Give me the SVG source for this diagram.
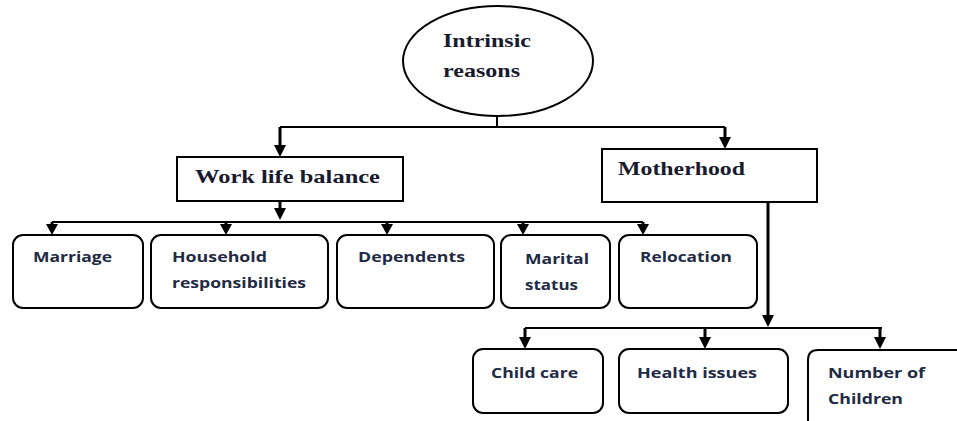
<svg xmlns="http://www.w3.org/2000/svg" width="957" height="421" viewBox="0 0 957 421">
<style>
.bx{fill:#fff;stroke:#000;stroke-width:2}
.ln{fill:none;stroke:#000;stroke-width:2}
.th{fill:none;stroke:#000;stroke-width:3}
.sf{font-family:"Liberation Serif","Times New Roman",serif;font-weight:bold;font-size:19px;fill:#1a1a2e}
.ss{font-family:"Open Sans","Liberation Sans",Arial,sans-serif;font-weight:bold;font-size:14px;fill:#1f2a44}
</style>
<defs>
<marker id="ah" markerWidth="10" markerHeight="10" refX="5" refY="9" orient="auto-start-reverse" markerUnits="userSpaceOnUse" viewBox="0 0 10 10">
<path d="M0,0 L10,0 L5,10 Z" fill="#000"/>
</marker>
</defs>
<rect width="957" height="421" fill="#fff"/>
<g id="connectors">
<path class="ln" d="M497,117 V127"/>
<path class="ln" d="M280,127 H725"/>
<path class="th" d="M280,127 V148"/>
<path d="M274,145 H286 L280,157 Z"/>
<path class="th" d="M725,127 V140"/>
<path d="M719,137 H731 L725,149 Z"/>
<path class="th" d="M280,201 V212"/>
<path d="M274,208 H286 L280,220 Z"/>
<path class="ln" d="M52,222 H643"/>
<path class="th" d="M52,222 V227"/><path d="M46,224 H58 L52,235 Z"/>
<path class="th" d="M226,222 V227"/><path d="M220,224 H232 L226,235 Z"/>
<path class="th" d="M387,222 V227"/><path d="M381,224 H393 L387,235 Z"/>
<path class="th" d="M523,222 V227"/><path d="M517,224 H529 L523,235 Z"/>
<path class="th" d="M643,222 V227"/><path d="M637,224 H649 L643,235 Z"/>
<path class="th" d="M768,202 V318"/>
<path d="M762,315 H774 L768,327 Z"/>
<path class="ln" d="M525,328 H882"/>
<path class="th" d="M525,328 V340"/><path d="M519,337 H531 L525,349 Z"/>
<path class="th" d="M705,328 V340"/><path d="M699,337 H711 L705,349 Z"/>
<path class="th" d="M880,328 V340"/><path d="M874,337 H886 L880,349 Z"/>
</g>
<g id="intrinsic">
<ellipse class="bx" cx="498" cy="61" rx="95" ry="55"/>
<text class="sf" x="443" y="47" textLength="88" lengthAdjust="spacingAndGlyphs">Intrinsic</text>
<text class="sf" x="443" y="77" textLength="77" lengthAdjust="spacingAndGlyphs">reasons</text>
</g>
<g id="worklife">
<rect class="bx" x="177" y="157" width="226" height="44"/>
<text class="sf" x="195" y="183" textLength="185" lengthAdjust="spacingAndGlyphs">Work life balance</text>
</g>
<g id="motherhood">
<rect class="bx" x="602" y="149" width="215" height="53"/>
<text class="sf" x="618" y="175" textLength="127" lengthAdjust="spacingAndGlyphs">Motherhood</text>
</g>
<g id="marriage">
<rect class="bx" x="13" y="235" width="130" height="73" rx="10"/>
<text class="ss" x="33" y="262" textLength="79" lengthAdjust="spacingAndGlyphs">Marriage</text>
</g>
<g id="household">
<rect class="bx" x="151" y="235" width="177" height="73" rx="10"/>
<text class="ss" x="172" y="262" textLength="95" lengthAdjust="spacingAndGlyphs">Household</text>
<text class="ss" x="172" y="288" textLength="134" lengthAdjust="spacingAndGlyphs">responsibilities</text>
</g>
<g id="dependents">
<rect class="bx" x="337" y="235" width="157" height="73" rx="10"/>
<text class="ss" x="358" y="262" textLength="107" lengthAdjust="spacingAndGlyphs">Dependents</text>
</g>
<g id="marital">
<rect class="bx" x="501" y="235" width="109" height="73" rx="10"/>
<text class="ss" x="525" y="264" textLength="64" lengthAdjust="spacingAndGlyphs">Marital</text>
<text class="ss" x="525" y="290" textLength="53" lengthAdjust="spacingAndGlyphs">status</text>
</g>
<g id="relocation">
<rect class="bx" x="619" y="235" width="138" height="73" rx="10"/>
<text class="ss" x="640" y="262" textLength="92" lengthAdjust="spacingAndGlyphs">Relocation</text>
</g>
<g id="childcare">
<rect class="bx" x="473" y="349" width="130" height="64" rx="10"/>
<text class="ss" x="491" y="378" textLength="87" lengthAdjust="spacingAndGlyphs">Child care</text>
</g>
<g id="health">
<rect class="bx" x="619" y="349" width="169" height="64" rx="10"/>
<text class="ss" x="637" y="378" textLength="120" lengthAdjust="spacingAndGlyphs">Health issues</text>
</g>
<g id="children">
<path class="bx" d="M808,421 V360 Q808,350 818,350 H960"/>
<text class="ss" x="828" y="378" textLength="97" lengthAdjust="spacingAndGlyphs">Number of</text>
<text class="ss" x="828" y="404" textLength="75" lengthAdjust="spacingAndGlyphs">Children</text>
</g>
</svg>
